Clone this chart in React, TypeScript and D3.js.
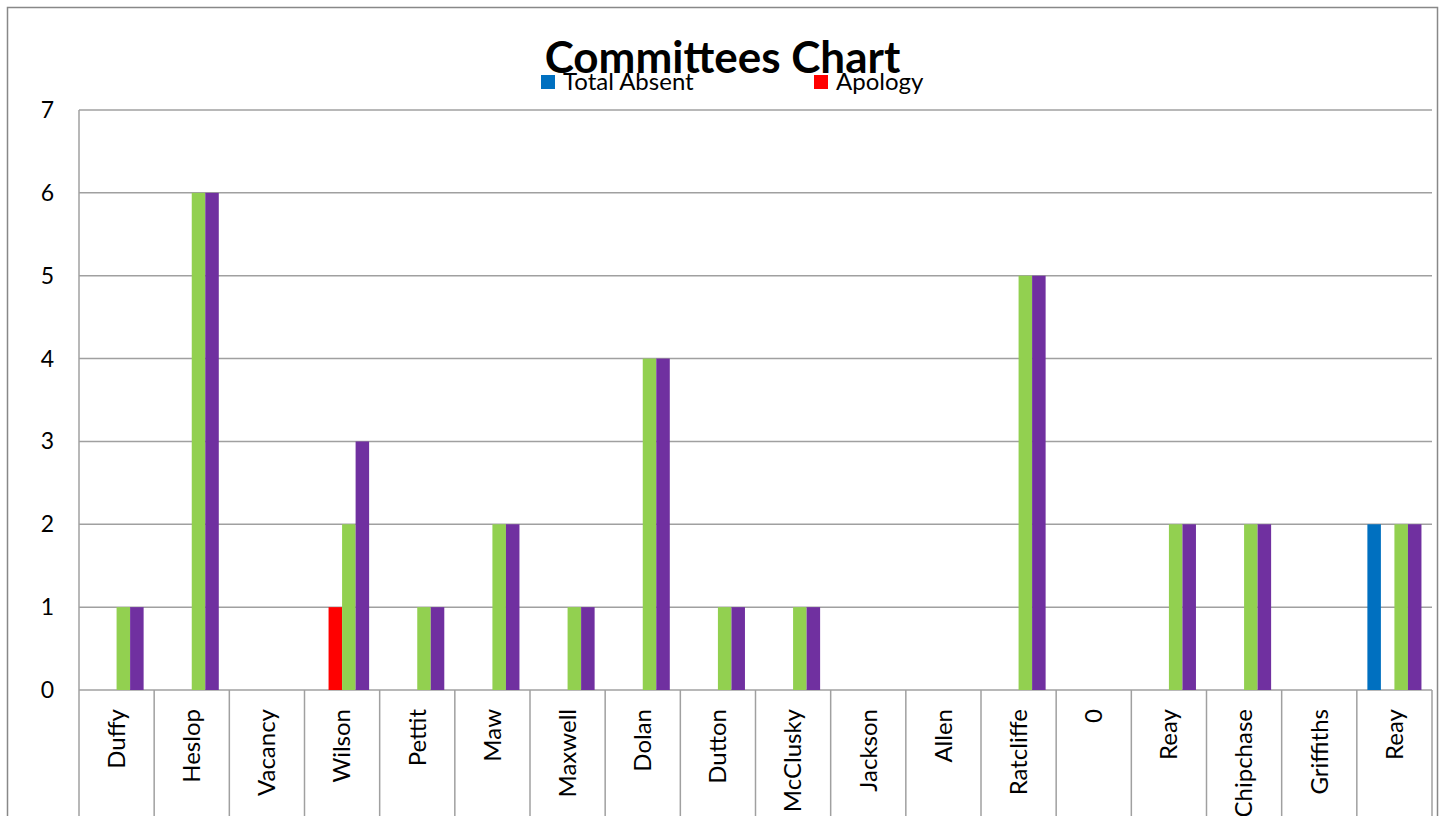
import { useEffect } from 'react';
import * as d3 from 'd3';

const categories = [
  'Duffy', 'Heslop', 'Vacancy', 'Wilson', 'Pettit', 'Maw', 'Maxwell', 'Dolan', 'Dutton',
  'McClusky', 'Jackson', 'Allen', 'Ratcliffe', '0', 'Reay', 'Chipchase', 'Griffiths', 'Reay',
];

const totalAbsent = [0, 0, 0, 0, 0, 0, 0, 0, 0, 0, 0, 0, 0, 0, 0, 0, 0, 2];
const apology = [0, 0, 0, 1, 0, 0, 0, 0, 0, 0, 0, 0, 0, 0, 0, 0, 0, 0];
const attended = [1, 6, 0, 2, 1, 2, 1, 4, 1, 1, 0, 0, 5, 0, 2, 2, 0, 2];
const meetings = [1, 6, 0, 3, 1, 2, 1, 4, 1, 1, 0, 0, 5, 0, 2, 2, 0, 2];

const yTicks = [0, 1, 2, 3, 4, 5, 6, 7];

const SERIES = [
  { key: 'Total Absent', values: totalAbsent, color: '#0070C0', legend: true },
  { key: 'Apology', values: apology, color: '#FF0000', legend: true },
  { key: 'Attended', values: attended, color: '#92D050', legend: false },
  { key: 'Meetings', values: meetings, color: '#7030A0', legend: false },
];

const W = 1445;
const H = 816;
const plot = { left: 79, right: 1432, top: 110, bottom: 690 };
const FONT = 'Lato, "Open Sans", sans-serif';
const GRID = '#a0a0a0';

export default function App() {
  useEffect(() => {
    document.body.style.margin = '0';
  }, []);

  const x0 = d3.scaleBand<number>()
    .domain(categories.map((_, i) => i))
    .range([plot.left, plot.right])
    .padding(0);

  const x1 = d3.scaleBand<string>()
    .domain(SERIES.map((s) => s.key))
    .range([0, x0.bandwidth()])
    .paddingInner(0)
    .paddingOuter(0.78);

  const y = d3.scaleLinear().domain([0, 7]).range([plot.bottom, plot.top]);

  const legendItems = SERIES.filter((s) => s.legend);
  const legendX = [541, 814];

  return (
    <svg width={W} height={H} style={{ display: 'block', fontFamily: FONT }}>
      <rect x={0} y={0} width={W} height={H} fill="#fff" />
      <rect x={7.5} y={7.5} width={1430} height={H} fill="none" stroke="#888" strokeWidth={1.5} />

      {/* gridlines */}
      {yTicks.map((t) => (
        <line key={t} x1={plot.left} x2={plot.right} y1={y(t)} y2={y(t)} stroke={GRID} strokeWidth={1.5} />
      ))}
      <line x1={plot.left} x2={plot.left} y1={plot.top} y2={H} stroke={GRID} strokeWidth={1.5} />

      {/* category boxes */}
      {categories.map((_, i) => (
        <line
          key={i}
          x1={(x0(i) ?? 0) + x0.bandwidth()}
          x2={(x0(i) ?? 0) + x0.bandwidth()}
          y1={plot.bottom}
          y2={H}
          stroke={GRID}
          strokeWidth={1.5}
        />
      ))}

      {/* bars */}
      {categories.map((_, i) => (
        <g key={i} transform={`translate(${x0(i)},0)`}>
          {SERIES.map((s) =>
            s.values[i] > 0 ? (
              <rect
                key={s.key}
                x={x1(s.key)}
                y={y(s.values[i])}
                width={x1.bandwidth()}
                height={y(0) - y(s.values[i])}
                fill={s.color}
              />
            ) : null,
          )}
        </g>
      ))}

      {/* y labels */}
      {yTicks.map((t) => (
        <text key={t} x={54} y={y(t)} dy="0.35em" textAnchor="end" fontSize={23} fill="#000">
          {t}
        </text>
      ))}

      {/* category labels */}
      {categories.map((c, i) => {
        const cx = (x0(i) ?? 0) + x0.bandwidth() / 2;
        return (
          <text
            key={i}
            transform={`translate(${cx},709) rotate(-90)`}
            textAnchor="end"
            dy="0.35em"
            fontSize={24}
            fill="#000"
          >
            {c}
          </text>
        );
      })}

      {/* title */}
      <text x={722.5} y={73} textAnchor="middle" fontSize={44} fontWeight="bold" fill="#000">
        Committees Chart
      </text>

      {/* legend */}
      {legendItems.map((s, i) => (
        <g key={s.key} transform={`translate(${legendX[i]},75)`}>
          <rect x={0} y={0} width={14} height={14} fill={s.color} />
          <text x={22} y={15} fontSize={24} fill="#000">
            {s.key}
          </text>
        </g>
      ))}
    </svg>
  );
}
